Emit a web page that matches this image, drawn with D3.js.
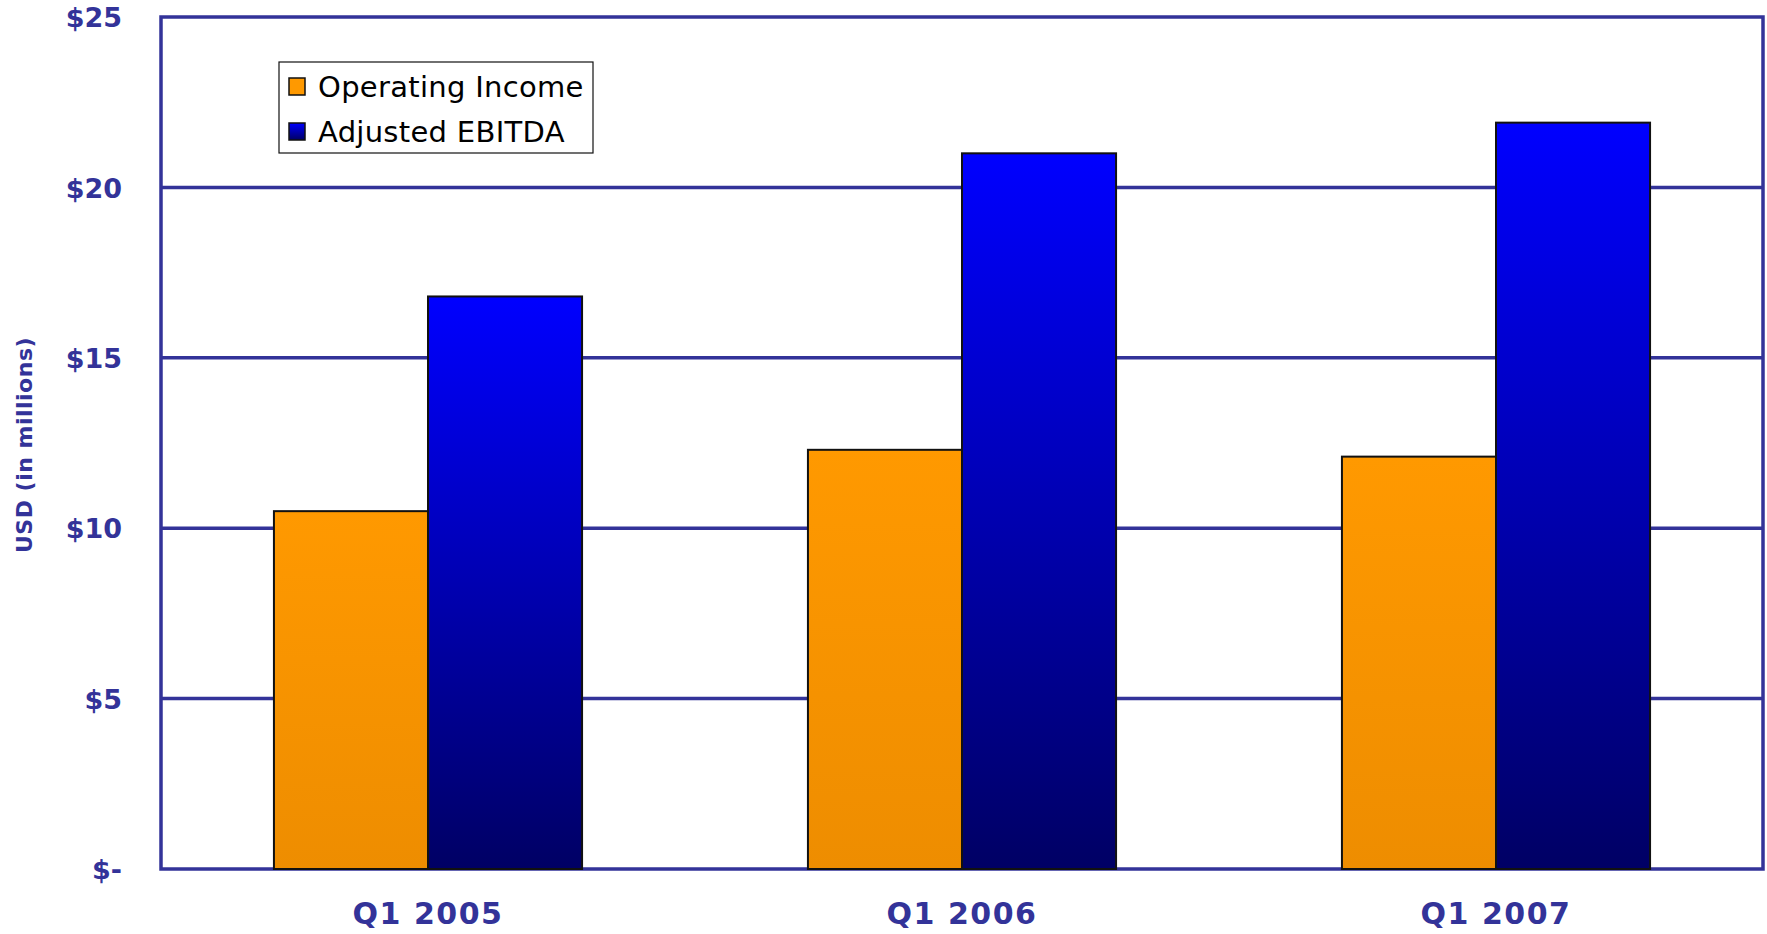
<!DOCTYPE html>
<html>
<head>
<meta charset="utf-8">
<script src="https://cdn.jsdelivr.net/npm/d3@7"></script>
<style>
  body { margin: 0; background: #fff; overflow: hidden; }
  text { font-family: "DejaVu Sans", Verdana, sans-serif; }
</style>
</head>
<body>
<div id="chart"></div>
<script>
// data (USD millions)
const quarters = ["Q1 2005", "Q1 2006", "Q1 2007"];
const seriesNames = ["Operating Income", "Adjusted EBITDA"];
const operatingIncome = [10.5, 12.3, 12.1];
const adjustedEbitda = [16.8, 21.0, 21.9];
const yTicks = [0, 5, 10, 15, 20, 25];

const width = 1767, height = 934;
const margin = { top: 17, right: 4, bottom: 65, left: 161 };
const axisColor = "#333399";

const svg = d3.select("#chart")
  .append("svg")
    .attr("width", width)
    .attr("height", height)
    .style("display", "block");

const defs = svg.append("defs");
const gOrange = defs.append("linearGradient").attr("id", "gradOrange")
  .attr("x1", 0).attr("y1", 0).attr("x2", 0).attr("y2", 1);
gOrange.append("stop").attr("offset", "0%").attr("stop-color", "#ff9900");
gOrange.append("stop").attr("offset", "100%").attr("stop-color", "#ee8d00");
const gBlue = defs.append("linearGradient").attr("id", "gradBlue")
  .attr("x1", 0).attr("y1", 0).attr("x2", 0).attr("y2", 1);
gBlue.append("stop").attr("offset", "0%").attr("stop-color", "#0000ff");
gBlue.append("stop").attr("offset", "100%").attr("stop-color", "#000064");

const fills = ["url(#gradOrange)", "url(#gradBlue)"];

const x = d3.scaleBand()
  .domain(quarters)
  .range([margin.left, width - margin.right])
  .paddingInner(0.423)
  .paddingOuter(0.2115);

const xSub = d3.scaleBand()
  .domain(seriesNames)
  .range([0, x.bandwidth()]);

const y = d3.scaleLinear()
  .domain([0, 25])
  .range([height - margin.bottom, margin.top]);

// gridlines
svg.append("g")
  .attr("id", "grid")
  .selectAll("line")
  .data(yTicks.filter(d => d > 0 && d < 25))
  .join("line")
    .attr("x1", margin.left)
    .attr("x2", width - margin.right)
    .attr("y1", d => y(d))
    .attr("y2", d => y(d))
    .attr("stroke", axisColor)
    .attr("stroke-width", 3.5);

// plot frame
svg.append("rect")
  .attr("x", margin.left)
  .attr("y", y(25))
  .attr("width", width - margin.right - margin.left)
  .attr("height", y(0) - y(25))
  .attr("fill", "none")
  .attr("stroke", axisColor)
  .attr("stroke-width", 3.5);

// bars
const rows = quarters.map((q, i) => ({ q, values: [operatingIncome[i], adjustedEbitda[i]] }));
const groups = svg.append("g").attr("id", "bars")
  .selectAll("g")
  .data(rows)
  .join("g")
    .attr("transform", d => `translate(${x(d.q)},0)`);

groups.selectAll("rect")
  .data(d => d.values.map((v, j) => ({ name: seriesNames[j], v, j })))
  .join("rect")
    .attr("x", d => xSub(d.name))
    .attr("y", d => y(d.v))
    .attr("width", xSub.bandwidth())
    .attr("height", d => y(0) - y(d.v))
    .attr("fill", d => fills[d.j])
    .attr("stroke", "#111")
    .attr("stroke-width", 2);

// y axis labels
const yAxis = d3.axisLeft(y)
  .tickValues(yTicks)
  .tickSize(0)
  .tickPadding(0)
  .tickFormat(d => d === 0 ? "$-" : "$" + d);

svg.append("g")
  .attr("transform", "translate(122,0)")
  .call(yAxis)
  .call(g => g.select(".domain").remove())
  .selectAll("text")
    .attr("fill", axisColor)
    .attr("font-size", 27)
    .attr("font-weight", "bold")
    .attr("dy", "0.36em")
    .style("font-family", "'DejaVu Sans', Verdana, sans-serif");

// x axis labels
const xAxis = d3.axisBottom(x).tickSize(0).tickPadding(0);
svg.append("g")
  .attr("transform", `translate(0,${y(0)})`)
  .call(xAxis)
  .call(g => g.select(".domain").remove())
  .selectAll("text")
    .attr("fill", axisColor)
    .attr("font-size", 30)
    .attr("font-weight", "bold")
    .attr("letter-spacing", "1.5px")
    .attr("dy", 0)
    .attr("y", 55)
    .style("font-family", "'DejaVu Sans', Verdana, sans-serif");

// y title
svg.append("text")
  .attr("transform", `translate(32,${(y(0) + y(25)) / 2 + 2}) rotate(-90)`)
  .attr("text-anchor", "middle")
  .attr("fill", axisColor)
  .attr("font-size", 22)
  .attr("font-weight", "bold")
  .attr("letter-spacing", "0.5px")
  .text("USD (in millions)");

// legend
const legend = svg.append("g").attr("id", "legend");
legend.append("rect")
  .attr("x", 279).attr("y", 62)
  .attr("width", 314).attr("height", 91)
  .attr("fill", "#fff")
  .attr("stroke", "#111")
  .attr("stroke-width", 1.2);

const legendFills = ["#ff9900", "url(#gradBlue)"];
const item = legend.selectAll("g.item")
  .data(seriesNames)
  .join("g")
    .attr("class", "item")
    .attr("transform", (d, i) => `translate(289,${78 + i * 45})`);
item.append("rect")
  .attr("width", 16).attr("height", 17)
  .attr("fill", (d, i) => legendFills[i])
  .attr("stroke", "#111")
  .attr("stroke-width", 1.5);
item.append("text")
  .attr("x", 29)
  .attr("y", 19)
  .attr("font-size", 29)
  .attr("letter-spacing", "0.3px")
  .attr("fill", "#000")
  .text(d => d);
</script>
</body>
</html>
